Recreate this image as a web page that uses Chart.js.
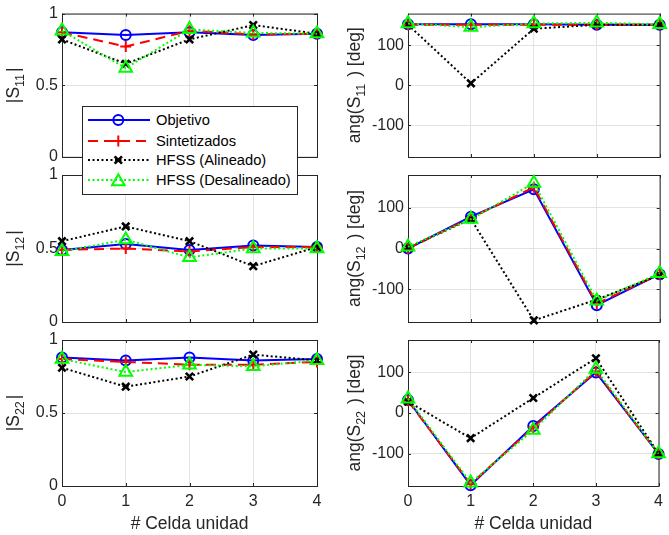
<!DOCTYPE html>
<html>
<head>
<meta charset="utf-8">
<script src="https://cdn.jsdelivr.net/npm/chart.js@4/dist/chart.umd.min.js"></script>
<style>
html,body{margin:0;padding:0;background:#fff;}
#wrap{position:relative;width:669px;height:535px;overflow:hidden;background:#fff;}
#wrap canvas{position:absolute;left:0;top:0;}
#legend{position:absolute;left:82px;top:106px;width:214px;height:87px;border:1px solid #262626;background:#fff;z-index:10;
  font-family:"Liberation Sans",Arial,Helvetica,sans-serif;font-size:14.7px;color:#000;}
#legend .row{position:absolute;left:0;width:214px;height:20px;}
#legend .row svg{position:absolute;left:0;top:0;}
#legend .row span{position:absolute;left:73px;top:0;line-height:20px;white-space:nowrap;}
</style>
</head>
<body>
<div id="wrap">
  <canvas id="c0" width="669" height="535"></canvas>
  <canvas id="c1" width="669" height="535"></canvas>
  <canvas id="c2" width="669" height="535"></canvas>
  <canvas id="c3" width="669" height="535"></canvas>
  <canvas id="c4" width="669" height="535"></canvas>
  <canvas id="c5" width="669" height="535"></canvas>
  <div id="legend"></div>
</div>
<script>
// ---------------- DATA ----------------
const cells = [0, 1, 2, 3, 4];
const magTicks = [0, 0.5, 1];
const angTicks = [-100, 0, 100];
const seriesNames = ['Objetivo', 'Sintetizados', 'HFSS (Alineado)', 'HFSS (Desalineado)'];
const xTitle = '# Celda unidad';

// |S11|
const s11MagObjetivo = [0.87, 0.85, 0.87, 0.85, 0.86];
const s11MagSintetizados = [0.87, 0.77, 0.88, 0.855, 0.86];
const s11MagAlineado = [0.82, 0.65, 0.82, 0.92, 0.86];
const s11MagDesalineado = [0.88, 0.62, 0.89, 0.865, 0.86];
// ang(S11)
const s11AngObjetivo = [153, 153, 153, 152, 152];
const s11AngSintetizados = [152, 152, 152, 152, 152];
const s11AngAlineado = [152, 5, 142, 152, 152];
const s11AngDesalineado = [155, 146, 155, 157, 153];
// |S12|
const s12MagObjetivo = [0.49, 0.53, 0.49, 0.52, 0.51];
const s12MagSintetizados = [0.49, 0.50, 0.48, 0.51, 0.51];
const s12MagAlineado = [0.55, 0.65, 0.55, 0.38, 0.51];
const s12MagDesalineado = [0.48, 0.56, 0.44, 0.50, 0.50];
// ang(S12)
const s12AngObjetivo = [0, 78, 145, -139, -63];
const s12AngSintetizados = [0, 75, 150, -135, -63];
const s12AngAlineado = [2, 72, -176, -125, -65];
const s12AngDesalineado = [4, 72, 160, -128, -61];
// |S22|
const s22MagObjetivo = [0.88, 0.86, 0.88, 0.86, 0.87];
const s22MagSintetizados = [0.87, 0.85, 0.83, 0.83, 0.85];
const s22MagAlineado = [0.81, 0.68, 0.75, 0.90, 0.86];
const s22MagDesalineado = [0.87, 0.78, 0.83, 0.82, 0.86];
// ang(S22)
const s22AngObjetivo = [32, -178, -32, 100, -101];
const s22AngSintetizados = [30, -175, -36, 103, -101];
const s22AngAlineado = [28, -62, 37, 135, -100];
const s22AngDesalineado = [35, -172, -42, 108, -100];

// ---------------- STYLE ----------------
const FONT = '"Liberation Sans", Arial, Helvetica, sans-serif';
const AXC = '#262626';
const seriesStyles = [
  {color:'#0000ff', dash:[], pointStyle:'circle', r:5, pw:2, order:3},
  {color:'#ff0000', dash:[10,6], pointStyle:'cross', r:5.5, pw:2, order:2},
  {color:'#000000', dash:[2,2.5], pointStyle:'crossRot', r:5.2, pw:2.6, order:1},
  {color:'#00ff00', dash:[2,2.5], pointStyle:'triangle', r:7.3, pw:2, order:0}
];

function drawParts(ctx, parts, mainSize, subSize, subDrop, subGap) {
  let total = 0;
  const widths = parts.map(p => {
    ctx.font = (p.sub ? subSize : mainSize) + 'px ' + FONT;
    const w = ctx.measureText(p.t).width + (p.sub ? subGap : 0);
    total += w; return w;
  });
  let x = -total / 2;
  parts.forEach((p, i) => {
    ctx.font = (p.sub ? subSize : mainSize) + 'px ' + FONT;
    ctx.fillText(p.t, x, p.sub ? subDrop : 0);
    x += widths[i];
  });
}

const framePlugin = {
  id: 'frame',
  beforeDatasetsDraw(chart) {
    const {ctx, chartArea: a} = chart;
    const sx = chart.scales.x, sy = chart.scales.y;
    const cfg = chart.options.plugins.frame;
    ctx.save();
    ctx.strokeStyle = AXC; ctx.lineWidth = 1;
    ctx.strokeRect(a.left + 0.5, a.top + 0.5, a.right - a.left, a.bottom - a.top);
    ctx.beginPath();
    cells.forEach(v => {
      const px = Math.round(sx.getPixelForValue(v)) + 0.5;
      ctx.moveTo(px, a.bottom); ctx.lineTo(px, a.bottom - 3);
      ctx.moveTo(px, a.top); ctx.lineTo(px, a.top + 3);
    });
    cfg.yTicks.forEach(v => {
      const py = Math.round(sy.getPixelForValue(v)) + 0.5;
      ctx.moveTo(a.left, py); ctx.lineTo(a.left + 3, py);
      ctx.moveTo(a.right, py); ctx.lineTo(a.right - 3, py);
    });
    ctx.stroke();
    ctx.fillStyle = AXC;
    ctx.textAlign = 'left'; ctx.textBaseline = 'alphabetic';
    ctx.save();
    ctx.translate(cfg.titleX, (a.top + a.bottom) / 2);
    ctx.rotate(-Math.PI / 2);
    drawParts(ctx, cfg.titleParts, 17.5, 12.5, 5, 2);
    ctx.restore();
    if (cfg.showX) {
      ctx.save();
      ctx.translate((a.left + a.right) / 2, 529);
      drawParts(ctx, [{t: xTitle}], 17.5, 12.5, 5, 0);
      ctx.restore();
    }
    ctx.restore();
  }
};

function makeChart(id, area, yTicks, yMin, yMax, showX, arrays, titleParts, titleX) {
  const W = 669, H = 535;
  const datasets = arrays.map((arr, i) => {
    const s = seriesStyles[i];
    return {
      label: seriesNames[i],
      data: cells.map((c, k) => ({x: c, y: arr[k]})),
      borderColor: s.color,
      borderWidth: 2,
      borderDash: s.dash,
      borderCapStyle: 'butt',
      pointStyle: s.pointStyle,
      pointRadius: s.r,
      pointBorderWidth: s.pw,
      pointBorderColor: s.color,
      pointBackgroundColor: 'rgba(0,0,0,0)',
      fill: false,
      tension: 0,
      clip: false,
      order: s.order
    };
  });
  return new Chart(document.getElementById(id), {
    type: 'line',
    data: {datasets},
    options: {
      responsive: false,
      animation: false,
      events: [],
      devicePixelRatio: 1,
      layout: {padding: {left: 0, top: area.T, right: W - area.R, bottom: 0}},
      plugins: {
        legend: {display: false},
        tooltip: {enabled: false},
        frame: {yTicks, titleParts, titleX, showX}
      },
      scales: {
        x: {
          type: 'linear', min: 0, max: 4,
          afterBuildTicks: s => { s.ticks = cells.map(v => ({value: v})); },
          afterFit: s => { s.height = H - area.B; },
          grid: {color: '#e3e3e3', lineWidth: 1, drawTicks: false},
          border: {display: false},
          ticks: {display: showX, padding: 6, color: AXC, font: {family: FONT, size: 16},
                  callback: v => String(v), maxRotation: 0}
        },
        y: {
          type: 'linear', min: yMin, max: yMax,
          afterBuildTicks: s => { s.ticks = yTicks.map(v => ({value: v})); },
          afterFit: s => { s.width = area.L; },
          grid: {color: '#e3e3e3', lineWidth: 1, drawTicks: false},
          border: {display: false},
          ticks: {padding: 4, color: AXC, font: {family: FONT, size: 16},
                  callback: v => String(v)}
        }
      }
    },
    plugins: [framePlugin]
  });
}

const LX = {L: 62, R: 317}, RX = {L: 408, R: 663};
const rows = [{T: 10, B: 157}, {T: 175, B: 322}, {T: 340, B: 486}];
const sub = t => ({t, sub: true});

makeChart('c0', {...LX, ...rows[0]}, magTicks, 0, 1, false,
  [s11MagObjetivo, s11MagSintetizados, s11MagAlineado, s11MagDesalineado],
  [{t:'|S'}, sub('11'), {t:'|'}], 19);
makeChart('c1', {...RX, ...rows[0]}, angTicks, -180, 180, false,
  [s11AngObjetivo, s11AngSintetizados, s11AngAlineado, s11AngDesalineado],
  [{t:'ang(S'}, sub('11'), {t:' ) [deg]'}], 360);
makeChart('c2', {...LX, ...rows[1]}, magTicks, 0, 1, false,
  [s12MagObjetivo, s12MagSintetizados, s12MagAlineado, s12MagDesalineado],
  [{t:'|S'}, sub('12'), {t:'|'}], 19);
makeChart('c3', {...RX, ...rows[1]}, angTicks, -180, 180, false,
  [s12AngObjetivo, s12AngSintetizados, s12AngAlineado, s12AngDesalineado],
  [{t:'ang(S'}, sub('12'), {t:' ) [deg]'}], 360);
makeChart('c4', {...LX, ...rows[2]}, magTicks, 0, 1, true,
  [s22MagObjetivo, s22MagSintetizados, s22MagAlineado, s22MagDesalineado],
  [{t:'|S'}, sub('22'), {t:'|'}], 19);
makeChart('c5', {...RX, ...rows[2]}, angTicks, -180, 180, true,
  [s22AngObjetivo, s22AngSintetizados, s22AngAlineado, s22AngDesalineado],
  [{t:'ang(S'}, sub('22'), {t:' ) [deg]'}], 360);

// ---------------- LEGEND (HTML) ----------------
(function buildLegend() {
  const lg = document.getElementById('legend');
  const tops = [3, 23.5, 43, 62.5];
  const NS = 'http://www.w3.org/2000/svg';
  seriesNames.forEach((name, i) => {
    const s = seriesStyles[i];
    const row = document.createElement('div');
    row.className = 'row';
    row.style.top = tops[i] + 'px';
    const svg = document.createElementNS(NS, 'svg');
    svg.setAttribute('width', '72'); svg.setAttribute('height', '20');
    const line = document.createElementNS(NS, 'line');
    line.setAttribute('x1', '5'); line.setAttribute('x2', '67');
    line.setAttribute('y1', '10'); line.setAttribute('y2', '10');
    line.setAttribute('stroke', s.color); line.setAttribute('stroke-width', '2');
    if (s.dash.length) line.setAttribute('stroke-dasharray', s.dash.join(' '));
    svg.appendChild(line);
    const cx = 35.3, cy = 10;
    let m;
    if (s.pointStyle === 'circle') {
      m = document.createElementNS(NS, 'circle');
      m.setAttribute('cx', cx); m.setAttribute('cy', cy); m.setAttribute('r', s.r);
    } else if (s.pointStyle === 'cross') {
      m = document.createElementNS(NS, 'path');
      m.setAttribute('d', `M${cx - s.r} ${cy}H${cx + s.r}M${cx} ${cy - s.r}V${cy + s.r}`);
    } else if (s.pointStyle === 'crossRot') {
      const d = s.r * Math.SQRT1_2;
      m = document.createElementNS(NS, 'path');
      m.setAttribute('d', `M${cx - d} ${cy - d}L${cx + d} ${cy + d}M${cx + d} ${cy - d}L${cx - d} ${cy + d}`);
    } else {
      const r = s.r;
      const p = [0, 1, 2].map(k => {
        const a = -Math.PI / 2 + k * 2 * Math.PI / 3;
        return (cx + r * Math.cos(a)).toFixed(2) + ',' + (cy + 1.5 + r * Math.sin(a)).toFixed(2);
      }).join(' ');
      m = document.createElementNS(NS, 'polygon');
      m.setAttribute('points', p);
    }
    m.setAttribute('fill', 'none'); m.setAttribute('stroke', s.color);
    m.setAttribute('stroke-width', s.pw);
    svg.appendChild(m);
    row.appendChild(svg);
    const sp = document.createElement('span');
    sp.textContent = name;
    row.appendChild(sp);
    lg.appendChild(row);
  });
})();
</script>
</body>
</html>
